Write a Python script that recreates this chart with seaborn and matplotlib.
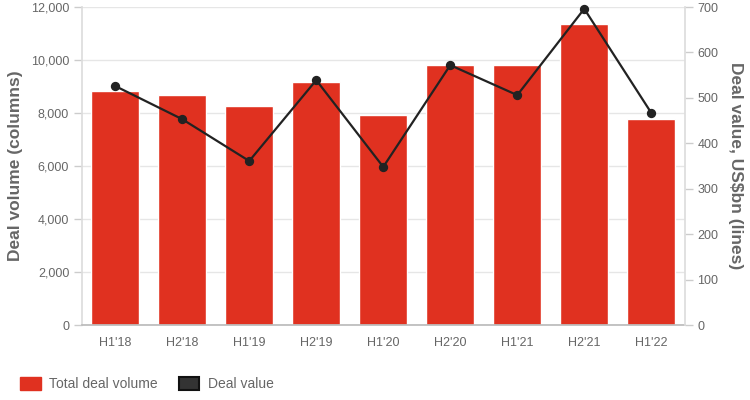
import numpy as np
import pandas as pd
import matplotlib
matplotlib.use('Agg')
import matplotlib.pyplot as plt
from matplotlib.patches import Patch
import seaborn as sns

# data
periods = ["H1'18", "H2'18", "H1'19", "H2'19", "H1'20", "H2'20", "H1'21", "H2'21", "H1'22"]
deal_volume = [8820, 8680, 8280, 9170, 7940, 9800, 9830, 11340, 7770]
deal_value = [526, 453, 361, 539, 348, 572, 506, 696, 467]

df = pd.DataFrame({'period': periods, 'volume': deal_volume, 'value': deal_value})

sns.set_theme(style="white")
plt.rcParams['font.family'] = ['Liberation Sans', 'DejaVu Sans']

bar_color = '#e03120'
line_color = '#222222'
text_grey = '#666666'
grid_grey = '#e6e6e6'

fig = plt.figure(figsize=(7.5, 4), dpi=100)
ax = fig.add_axes([0.109, 0.1875, 0.804, 0.795])

sns.barplot(data=df, x='period', y='volume', ax=ax, color=bar_color,
            saturation=1, width=0.72, zorder=2)
ax.set_ylim(0, 12000)
ax.set_yticks(np.arange(0, 12001, 2000))
ax.set_yticklabels([f'{v:,}' for v in range(0, 12001, 2000)])
ax.grid(axis='y', color=grid_grey, linewidth=1, zorder=0)
ax.set_axisbelow(True)
ax.set_xlim(-0.5, len(periods) - 0.5)
ax.set_xlabel('')
ax.set_ylabel('Deal volume (columns)', fontsize=12.5, fontweight='bold',
              color=text_grey, labelpad=6)

ax2 = ax.twinx()
sns.pointplot(data=df, x='period', y='value', ax=ax2, color=line_color,
              markers='o', linewidth=1.6, markersize=5.5, zorder=3)
for ln in ax2.lines:
    ln.set_clip_on(False)
for coll in ax2.collections:
    coll.set_clip_on(False)
ax2.set_ylim(0, 700)
ax2.set_yticks(np.arange(0, 701, 100))
ax2.set_xlim(-0.5, len(periods) - 0.5)
ax2.set_xlabel('')
ax2.set_ylabel('Deal value, US$bn (lines)', fontsize=12.5, fontweight='bold',
               color=text_grey, rotation=270, labelpad=18)

for a in (ax, ax2):
    a.tick_params(axis='both', labelsize=9, colors=text_grey, length=6,
                  width=1, pad=3)
    a.tick_params(axis='both', color='#cccccc')
    for s in a.spines.values():
        s.set_visible(False)
ax.tick_params(axis='x', length=0, pad=9)
ax.spines['left'].set_visible(True)
ax.spines['left'].set_color('#dddddd')
ax.spines['bottom'].set_visible(True)
ax.spines['bottom'].set_color('#bbbbbb')
ax2.spines['right'].set_visible(True)
ax2.spines['right'].set_color('#dddddd')

handles = [Patch(facecolor=bar_color, edgecolor=bar_color),
           Patch(facecolor='#333333', edgecolor='#111111', linewidth=1.5)]
fig.legend(handles, ['Total deal volume', 'Deal value'], loc='lower left',
           bbox_to_anchor=(0.01, -0.01), ncol=2, frameon=False, fontsize=10,
           labelcolor=text_grey, handlelength=1.5, handleheight=1.1,
           columnspacing=1.5, handletextpad=0.6)

fig.savefig('out.png', dpi=100)
